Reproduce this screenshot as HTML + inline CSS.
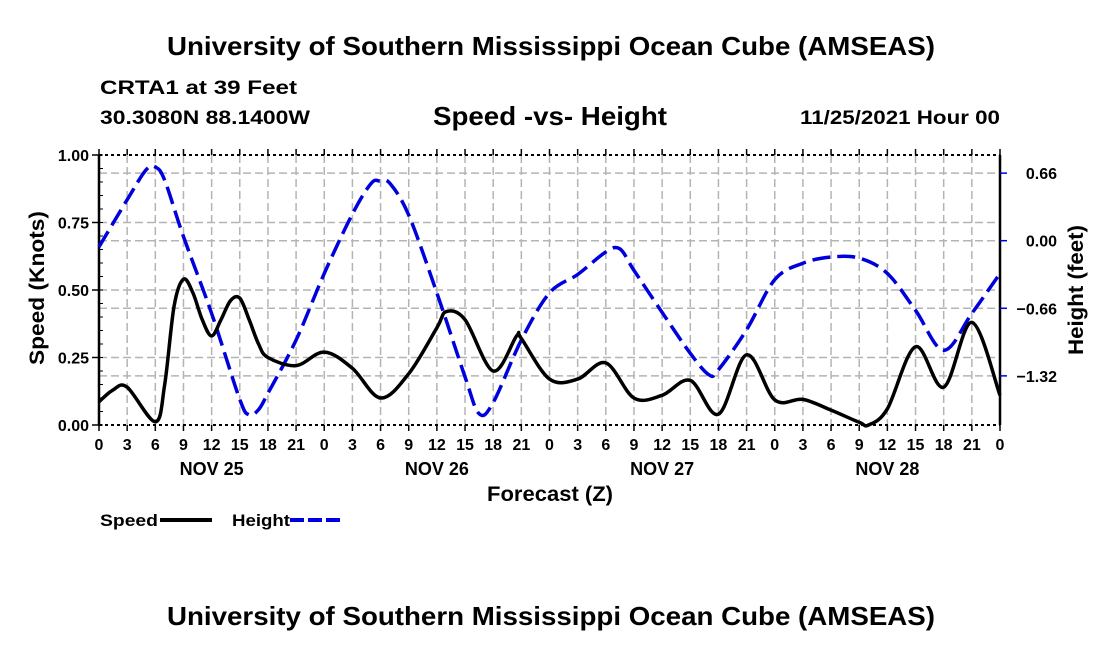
<!DOCTYPE html>
<html><head><meta charset="utf-8"><style>
body{margin:0;background:#fff;}
svg text{font-family:"Liberation Sans",Arial,sans-serif;font-weight:bold;fill:#000;}
</style></head><body>
<svg id="chart" xmlns="http://www.w3.org/2000/svg" width="1100" height="650" viewBox="0 0 1100 650">
<rect width="1100" height="650" fill="#fff"/>
<text x="167" y="55" font-size="26" textLength="768" lengthAdjust="spacingAndGlyphs">University of Southern Mississippi Ocean Cube (AMSEAS)</text>
<text x="100" y="94" font-size="19" textLength="197" lengthAdjust="spacingAndGlyphs">CRTA1 at 39 Feet</text>
<text x="100" y="124" font-size="19" textLength="210" lengthAdjust="spacingAndGlyphs">30.3080N  88.1400W</text>
<text x="433" y="125" font-size="26" textLength="234" lengthAdjust="spacingAndGlyphs">Speed -vs- Height</text>
<text x="800" y="124" font-size="19" textLength="200" lengthAdjust="spacingAndGlyphs">11/25/2021 Hour 00</text>
<g id="grid"></g>
<g id="axes"></g>
<g id="series"></g>
<text transform="translate(44,288) rotate(-90)" font-size="21" text-anchor="middle" textLength="154" lengthAdjust="spacingAndGlyphs">Speed (Knots)</text>
<text transform="translate(1083,290) rotate(-90)" font-size="21" text-anchor="middle" textLength="130" lengthAdjust="spacingAndGlyphs">Height (feet)</text>
<text x="550" y="501" font-size="21" text-anchor="middle" textLength="126" lengthAdjust="spacingAndGlyphs">Forecast (Z)</text>
<g>
<text x="100" y="526" font-size="17" textLength="58" lengthAdjust="spacingAndGlyphs">Speed</text>
<line x1="160" y1="520" x2="212" y2="520" stroke="#000" stroke-width="4"/>
<text x="232" y="526" font-size="17" textLength="58" lengthAdjust="spacingAndGlyphs">Height</text>
<line x1="290" y1="520" x2="342" y2="520" stroke="#0000dd" stroke-width="4" stroke-dasharray="14 4"/>
</g>
<text x="167" y="625" font-size="26" textLength="768" lengthAdjust="spacingAndGlyphs">University of Southern Mississippi Ocean Cube (AMSEAS)</text>
</svg>
<script>
const speedHours=[0,1.5,3,6,7,8,9,10,11,12,13,14,15,16,17,18,21,24,27,30,33,36,37,39,42,44.5,45,48,51,54,57,60,63,66,69,72,75,78,81,82,84,87,90,93,96];
const speedVals=[0.086,0.13,0.14,0.012,0.15,0.44,0.54,0.49,0.39,0.33,0.39,0.46,0.47,0.39,0.30,0.25,0.22,0.27,0.21,0.10,0.19,0.36,0.42,0.39,0.20,0.33,0.32,0.17,0.17,0.23,0.10,0.11,0.165,0.04,0.26,0.093,0.095,0.055,0.01,0.0,0.06,0.29,0.14,0.38,0.11];
const heightHours=[0,3,5,6,7,9,12,15,16,17,18,21,24,27,29,30,31,33,36,39,40.5,42,45,48,51,54,55.5,57,60,63,65,66,69,72,75,78,81,84,87,90,93,96];
const heightVals=[-0.06,0.40,0.69,0.72,0.59,0.04,-0.71,-1.55,-1.70,-1.65,-1.49,-0.97,-0.32,0.26,0.56,0.58,0.56,0.25,-0.51,-1.33,-1.69,-1.58,-0.97,-0.51,-0.33,-0.11,-0.08,-0.29,-0.70,-1.10,-1.31,-1.26,-0.87,-0.38,-0.22,-0.16,-0.17,-0.32,-0.68,-1.07,-0.71,-0.32];
const xTickLabels=["0","3","6","9","12","15","18","21"];
const dayLabels=["NOV 25","NOV 26","NOV 27","NOV 28"];
const leftTicks=[0,0.25,0.5,0.75,1.0];
const rightTicks=[0.66,0,-0.66,-1.32];

const NS="http://www.w3.org/2000/svg";
const X0=99,X1=1000,YT=155,YB=425;
const xs=h=>X0+h*(X1-X0)/96;
const ysL=v=>YB-v*(YB-YT);
const H0=240.7,HP=102.4;
const ysR=v=>H0-v*HP;
function mk(tag,attrs,parent){const e=document.createElementNS(NS,tag);for(const k in attrs)e.setAttribute(k,attrs[k]);parent.appendChild(e);return e;}
const grid=document.getElementById('grid'),axes=document.getElementById('axes'),series=document.getElementById('series');

for(let i=1;i<32;i++){const x=xs(i*3);
 const l=mk('line',{x1:x,y1:YT,x2:x,y2:YB,stroke:'#b4b4b4','stroke-width':1.5,'stroke-dasharray':'8 4'},grid);
 
 }
leftTicks.forEach(v=>{if(v>0&&v<1){const l=mk('line',{x1:X0,y1:ysL(v),x2:X1,y2:ysL(v),stroke:'#b4b4b4','stroke-width':1.5,'stroke-dasharray':'8 4'},grid);
 
 }});
rightTicks.forEach(v=>{const l=mk('line',{x1:X0,y1:ysR(v),x2:X1,y2:ysR(v),stroke:'#b4b4b4','stroke-width':1.5,'stroke-dasharray':'8 4'},grid);
 
 });

mk('line',{x1:X0,y1:YT,x2:X0,y2:YB,stroke:'#000','stroke-width':2.5},axes);
mk('line',{x1:X1,y1:YT,x2:X1,y2:YB,stroke:'#000','stroke-width':2.5},axes);
mk('line',{x1:X0,y1:YT,x2:X1,y2:YT,stroke:'#000','stroke-width':2,'stroke-dasharray':'3 3'},axes);
mk('line',{x1:X0,y1:YB,x2:X1,y2:YB,stroke:'#000','stroke-width':2,'stroke-dasharray':'3 3'},axes);
for(let i=0;i<=32;i++){const x=xs(i*3);
 mk('line',{x1:x,y1:YT-6,x2:x,y2:YT,stroke:'#000','stroke-width':1.5},axes);
 mk('line',{x1:x,y1:YB,x2:x,y2:YB+6,stroke:'#000','stroke-width':1.5},axes);
 const t=mk('text',{x:x,y:450,'font-size':16,'text-anchor':'middle'},axes);
 t.textContent=xTickLabels[i%8];
 
 }
dayLabels.forEach((d,i)=>{const t=mk('text',{x:xs(i*24+12),y:475,'font-size':18,'text-anchor':'middle'},axes);
 t.textContent=d;
 
 });
for(let v=0;v<=1.0001;v+=0.05){mk('line',{x1:X0,y1:ysL(v),x2:X0+4,y2:ysL(v),stroke:'#000','stroke-width':1},axes);}
leftTicks.forEach(v=>{const y=ysL(v);
 mk('line',{x1:X0-7,y1:y,x2:X0,y2:y,stroke:'#000','stroke-width':1.5},axes);
 const t=mk('text',{x:X0-10,y:y+6,'font-size':16,'text-anchor':'end'},axes);
 t.textContent=v.toFixed(2);
 
 });
rightTicks.forEach(v=>{const y=ysR(v);
 mk('line',{x1:X1,y1:y,x2:X1+7,y2:y,stroke:'#0000dd','stroke-width':1.5},axes);
 const t=mk('text',{x:1057,y:y+6,'font-size':16,'text-anchor':'end'},axes);
 t.textContent=(v<0?'\u2212':'')+Math.abs(v).toFixed(2);
 
 });

function smooth(pts){let d=`M${pts[0][0]},${pts[0][1]}`;
 for(let i=0;i<pts.length-1;i++){const p0=pts[Math.max(0,i-1)],p1=pts[i],p2=pts[i+1],p3=pts[Math.min(pts.length-1,i+2)];
  const c1=[p1[0]+(p2[0]-p0[0])/6,p1[1]+(p2[1]-p0[1])/6],c2=[p2[0]-(p3[0]-p1[0])/6,p2[1]-(p3[1]-p1[1])/6];
  d+=`C${c1[0]},${c1[1]} ${c2[0]},${c2[1]} ${p2[0]},${p2[1]}`;}
 return d;}
const hp=mk('path',{d:smooth(heightHours.map((h,i)=>[xs(h),ysR(heightVals[i])])),fill:'none',stroke:'#0000dd','stroke-width':3.5,'stroke-dasharray':'18 7'},series);


const sp=mk('path',{d:smooth(speedHours.map((h,i)=>[xs(h),ysL(speedVals[i])])),fill:'none',stroke:'#000','stroke-width':3.5},series);


</script>
</body></html>
